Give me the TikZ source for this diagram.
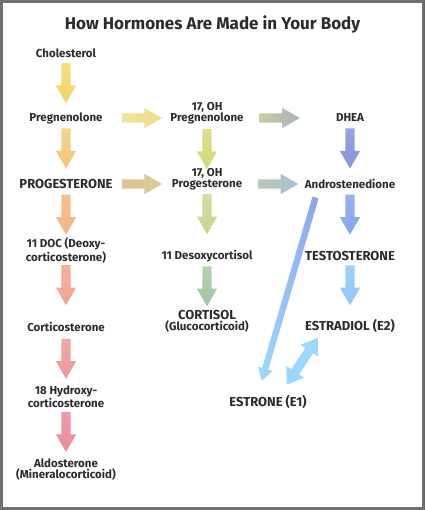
\documentclass[tikz,border=0pt]{standalone}
\usepackage{fontspec}
\setmainfont{Fira Sans}
\usetikzlibrary{positioning,shapes.arrows}

\definecolor{frame}{HTML}{707070}
\definecolor{ink}{HTML}{2B2B2B}
\definecolor{swapblue}{HTML}{9AD8FF}

\begin{document}
\begin{tikzpicture}[x=1pt, y=1pt,
    hormone/.style = {font=\bfseries\fontsize{11.5}{11}\selectfont, text=ink, align=center, inner sep=0pt},
    major/.style = {hormone, font=\bfseries\fontsize{13}{13}\selectfont},
    arrowbase/.style = {single arrow, sloped, allow upside down, inner xsep=0pt, inner ysep=4.5pt,
        minimum height=40pt, single arrow head extend=5.5pt, single arrow tip angle=60},
    flow/.style 2 args = {arrowbase,
        /utils/exec={\definecolor{flowL}{HTML}{#1}\definecolor{flowR}{HTML}{#2}},
        left color=flowL, right color=flowR},
    drop/.style 2 args = {arrowbase,
        /utils/exec={\definecolor{flowT}{HTML}{#1}\definecolor{flowB}{HTML}{#2}},
        top color=flowT, bottom color=flowB},
    sideflow/.style 2 args = {flow={#2}{#1}, minimum height=191pt, inner ysep=3pt,
        single arrow head extend=4.5pt, single arrow tip angle=64},
    swap/.style = {double arrow, sloped, allow upside down, inner xsep=0pt, inner ysep=4.5pt,
        minimum height=56pt, double arrow head extend=6pt, double arrow tip angle=70, fill=#1}]
    \useasboundingbox (0,0) rectangle (425,-510);
    \draw[line width=3pt, frame] (1.5,-1.5) rectangle (423.5,-508.5);
    \node[font=\bfseries\fontsize{17}{17}\selectfont, text=ink] (title) at (212.5,-24) {How Hormones Are Made in Your Body};

    % left column
    \node[hormone] (chol) at (66,-53) {Cholesterol};
    \node[hormone] (preg) [below of=chol, node distance=65pt] {Pregnenolone};
    \node[major] (prog) [below of=preg, node distance=66pt] {PROGESTERONE};
    \node[hormone] (doc) [below of=prog, node distance=66.5pt] {11 DOC (Deoxy-\\corticosterone)};
    \node[hormone] (cortico) [below of=doc, node distance=76.5pt] {Corticosterone};
    \node[hormone] (hydroxy) [below of=cortico, node distance=69.5pt] {18 Hydroxy-\\corticosterone};
    \node[hormone] (aldo) [below of=hydroxy, node distance=73pt] {Aldosterone\\(Mineralocorticoid)};

    % middle column
    \node[hormone] (ohpreg) [right of=preg, node distance=141pt, yshift=5pt] {17, OH\\Pregnenolone};
    \node[hormone] (ohprog) [right of=prog, node distance=141pt, yshift=4.5pt] {17, OH\\Progesterone};
    \node[hormone] (desoxy) [below of=ohprog, node distance=76.5pt] {11 Desoxycortisol};
    \node[hormone] (cortisol) [below of=desoxy, node distance=65.5pt] {{\fontsize{13}{13}\selectfont CORTISOL}\\(Glucocorticoid)};

    % right column
    \node[hormone] (dhea) [right of=preg, node distance=284pt] {DHEA};
    \node[hormone] (andro) [right of=prog, node distance=284pt] {Androstenedione};
    \node[major] (testo) [below of=andro, node distance=72pt] {TESTOSTERONE};
    \node[major] (estradiol) [below of=testo, node distance=70pt] {ESTRADIOL (E2)};
    \node[major] (estrone) [below of=testo, node distance=146pt, xshift=-82pt] {ESTRONE (E1)};

    % down the left column
    \path (chol.center) -- (preg.center) node[drop={F5DE80}{F3D465}, pos=.40] {};
    \path (preg.center) -- (prog.center) node[drop={F5D48E}{F3C37A}, pos=.40] {};
    \path (prog.center) -- (doc.center) node[drop={F5C08F}{F4B487}, pos=.40] {};
    \path (doc.center) -- (cortico.center) node[drop={F3B09A}{F2A592}, pos=.40] {};
    \path (cortico.center) -- (hydroxy.center) node[drop={F2A8A4}{F0979A}, pos=.40] {};
    \path (hydroxy.center) -- (aldo.center) node[drop={EE9AA6}{EC8A9B}, pos=.43] {};

    % across
    \path (preg.center) -- (preg -| ohpreg) node[flow={F0E496}{EEDD88}, pos=.51] {};
    \path (preg -| ohpreg) -- (dhea.center) node[flow={C9CBA0}{A8B3BD}, pos=.48] {};
    \path (prog.center) -- (prog -| ohprog) node[flow={E3C092}{CFCF94}, pos=.51] {};
    \path (prog -| ohprog) -- (andro.center) node[flow={B5CAB5}{A7BFD5}, pos=.47] {};

    % down the middle column
    \path (ohpreg.center) -- (ohprog.center) node[drop={DEDE8E}{D6D67A}, pos=.48] {};
    \path (ohprog.center) -- (desoxy.center) node[drop={D3DEA0}{C6D58F}, pos=.40] {};
    \path (desoxy.center) -- (cortisol.center) node[drop={B5D2B0}{A0C4A4}, pos=.40] {};

    % down the right column
    \path (dhea.center) -- (andro.center) node[drop={98A4E2}{8495D8}, pos=.40] {};
    \path (andro.center) -- (testo.center) node[drop={95B2F0}{88A5EC}, pos=.37] {};
    \path (testo.center) -- (estradiol.center) node[drop={A0D0FF}{8EC6FD}, pos=.36] {};

    % estrone links
    \path ([xshift=11pt, yshift=-8pt]andro.south west) -- ([xshift=-5pt, yshift=19pt]estrone.north)
        node[sideflow={8EA4EA}{9EDCFF}, midway] {};
    \path ([xshift=19pt, yshift=11pt]estrone.north) -- ([xshift=12.5pt, yshift=-5.5pt]estradiol.south west)
        node[swap=swapblue, midway] {};
\end{tikzpicture}
\end{document}
